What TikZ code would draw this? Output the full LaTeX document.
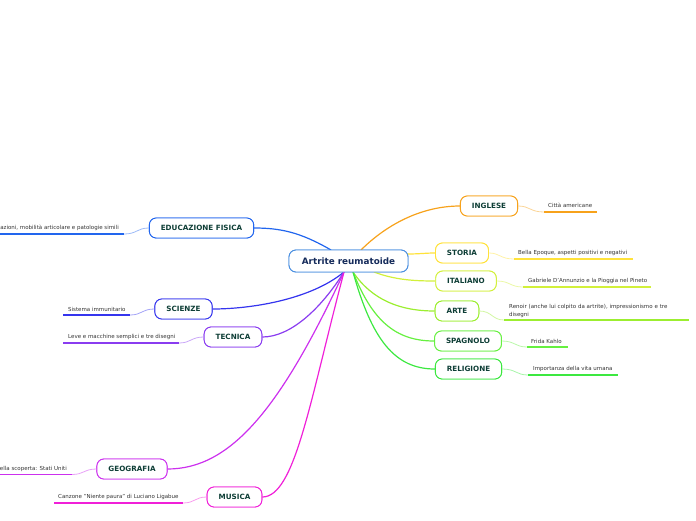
\documentclass[tikz,border=0pt]{standalone}
\usepackage{fontspec}
\setmainfont{DejaVu Sans}
\begin{document}
\begin{tikzpicture}[x=1pt,y=-1pt,
  topic/.style={draw=#1, line width=0.9pt, fill=white, rounded corners=7pt,
    font=\fontsize{7.2}{8}\selectfont\bfseries, text=txt, minimum height=20pt, inner xsep=11.5pt, inner ysep=0pt},
  sub/.style={font=\fontsize{5.5}{7.4}\selectfont, text=subtxt, inner sep=0pt, anchor=west, align=left},
  conn/.style={draw=#1, line width=1.2pt},
  link/.style={draw=#1!45, line width=0.8pt},
  uline/.style={draw=#1, line width=1.4pt}]
\definecolor{txt}{HTML}{0E3E36}
\definecolor{subtxt}{HTML}{333333}
\definecolor{ctxt}{HTML}{142A5A}
\definecolor{cmain}{HTML}{4A8FE0}
\definecolor{cing}{HTML}{F7A21B}
\definecolor{csto}{HTML}{FFE23A}
\definecolor{cita}{HTML}{D2F03A}
\definecolor{cart}{HTML}{9CEE30}
\definecolor{cspa}{HTML}{66F040}
\definecolor{crel}{HTML}{3CE840}
\definecolor{cedu}{HTML}{2266EE}
\definecolor{csci}{HTML}{3535EE}
\definecolor{ctec}{HTML}{8A3CF0}
\definecolor{cgeo}{HTML}{CC30EE}
\definecolor{cmus}{HTML}{F020D8}
\tikzset{mainbox/.style={draw=cmain, line width=0.9pt, fill=white, rounded corners=7pt,
  font=\fontsize{8.8}{10}\selectfont\bfseries, text=ctxt,
  minimum width=119pt, minimum height=22pt, inner sep=0pt}}
\useasboundingbox (0,0) rectangle (696,520);

\coordinate (cT1) at (361,250);
\coordinate (cT2) at (331,250);
\coordinate (cR) at (407,254);
\coordinate (cB1) at (374,272);
\coordinate (cB2) at (353,272);
\coordinate (cB3) at (344,272);

% nodes (placed first to get anchors)
\node[mainbox] (c) at (348.5,261) {\phantom{Artrite reumatoide}};
\node[topic=cing] (ing) at (489,206) {INGLESE};
\node[topic=csto] (sto) at (462,253) {STORIA};
\node[topic=cita] (ita) at (466,281) {ITALIANO};
\node[topic=cart] (art) at (457,311) {ARTE};
\node[topic=cspa] (spa) at (468,341) {SPAGNOLO};
\node[topic=crel] (rel) at (468.5,369) {RELIGIONE};
\node[topic=cedu] (edu) at (201.5,228) {EDUCAZIONE FISICA};
\node[topic=csci] (sci) at (183.5,309) {SCIENZE};
\node[topic=ctec] (tec) at (233,337) {TECNICA};
\node[topic=cgeo] (geo) at (132,469) {GEOGRAFIA};
\node[topic=cmus] (mus) at (234.5,497) {MUSICA};

% main connectors
\draw[conn=cing] (cT1) .. controls (385,226) and (420,206) .. (ing.west);
\draw[conn=csto] (cR) .. controls (420,254) and (425,253) .. (sto.west);
\draw[conn=cita] (cB1) .. controls (395,280) and (415,281) .. (ita.west);
\draw[conn=cart] (cB2) .. controls (372,300) and (400,311) .. (art.west);
\draw[conn=cspa] (cB2) .. controls (372,320) and (395,341) .. (spa.west);
\draw[conn=crel] (cB2) .. controls (372,340) and (395,369) .. (rel.west);
\draw[conn=cedu] (cT2) .. controls (300,232) and (280,228) .. (edu.east);
\draw[conn=csci] (cB3) .. controls (310,300) and (250,309) .. (sci.east);
\draw[conn=ctec] (cB3) .. controls (320,310) and (290,337) .. (tec.east);
\draw[conn=cgeo] (cB3) .. controls (280,410) and (230,469) .. (geo.east);
\draw[conn=cmus] (cB3) .. controls (310,400) and (295,497) .. (mus.east);

% redraw nodes over connectors
\node[mainbox] at (348.5,261) {Artrite reumatoide};
\node[topic=cing] at (489,206) {INGLESE};
\node[topic=csto] at (462,253) {STORIA};
\node[topic=cita] at (466,281) {ITALIANO};
\node[topic=cart] at (457,311) {ARTE};
\node[topic=cspa] at (468,341) {SPAGNOLO};
\node[topic=crel] at (468.5,369) {RELIGIONE};
\node[topic=cedu] at (201.5,228) {EDUCAZIONE FISICA};
\node[topic=csci] at (183.5,309) {SCIENZE};
\node[topic=ctec] at (233,337) {TECNICA};
\node[topic=cgeo] at (132,469) {GEOGRAFIA};
\node[topic=cmus] at (234.5,497) {MUSICA};

% subtopics right
\coordinate (u1a) at (544,212); \coordinate (u1b) at (597,212);
\node[sub] (s1) at (548,205.5) {Città americane};
\draw[link=cing] (ing.east) .. controls (530,206) and (530,212) .. (u1a);
\draw[uline=cing] (u1a) -- (u1b);

\coordinate (u2a) at (514,259); \coordinate (u2b) at (633,259);
\node[sub] (s2) at (518,253) {Bella Epoque, aspetti positivi e negativi};
\draw[link=csto] (sto.east) .. controls (500,253) and (500,259) .. (u2a);
\draw[uline=csto] (u2a) -- (u2b);

\coordinate (u3a) at (523,287); \coordinate (u3b) at (651,287);
\node[sub] (s3) at (528,281) {Gabriele D'Annunzio e la Pioggia nel Pineto};
\draw[link=cita] (ita.east) .. controls (510,281) and (510,287) .. (u3a);
\draw[uline=cita] (u3a) -- (u3b);

\coordinate (u4a) at (504,320); \coordinate (u4b) at (689,320);
\node[sub, text width=185pt] (s4) at (509,311) {Renoir (anche lui colpito da artrite), impressionismo e tre\\disegni};
\draw[link=cart] (art.east) .. controls (492,311) and (492,320) .. (u4a);
\draw[uline=cart] (u4a) -- (u4b);

\coordinate (u5a) at (527,347); \coordinate (u5b) at (568,347);
\node[sub] (s5) at (531,341) {Frida Kahlo};
\draw[link=cspa] (spa.east) .. controls (515,341) and (515,347) .. (u5a);
\draw[uline=cspa] (u5a) -- (u5b);

\coordinate (u6a) at (528,375); \coordinate (u6b) at (618,375);
\node[sub] (s6) at (533,369) {Importanza della vita umana};
\draw[link=crel] (rel.east) .. controls (516,369) and (516,375) .. (u6a);
\draw[uline=crel] (u6a) -- (u6b);

% subtopics left
\coordinate (u7a) at (124,234); \coordinate (u7b) at (0,234);
\node[sub, anchor=east] (s7) at (119,228) {lazioni, mobilità articolare e patologie simili};
\draw[link=cedu] (edu.west) .. controls (137,228) and (137,234) .. (u7a);
\draw[uline=cedu] (u7a) -- (u7b);

\coordinate (u8a) at (130,315); \coordinate (u8b) at (63,315);
\node[sub] (s8) at (68,309) {Sistema immunitario};
\draw[link=csci] (sci.west) .. controls (142,309) and (142,315) .. (u8a);
\draw[uline=csci] (u8a) -- (u8b);

\coordinate (u9a) at (179,343); \coordinate (u9b) at (63,343);
\node[sub] (s9) at (68,337) {Leve e macchine semplici e tre disegni};
\draw[link=ctec] (tec.west) .. controls (191,337) and (191,343) .. (u9a);
\draw[uline=ctec] (u9a) -- (u9b);

\coordinate (u10a) at (72,474.5); \coordinate (u10b) at (0,474.5);
\node[sub, anchor=east] (s10) at (67,468.5) {ella scoperta: Stati Uniti};
\draw[link=cgeo] (geo.west) .. controls (84,469) and (84,474.5) .. (u10a);
\draw[uline=cgeo] (u10a) -- (u10b);

\coordinate (u11a) at (183,503); \coordinate (u11b) at (54,503);
\node[sub] (s11) at (58,497) {Canzone "Niente paura" di Luciano Ligabue};
\draw[link=cmus] (mus.west) .. controls (195,497) and (195,503) .. (u11a);
\draw[uline=cmus] (u11a) -- (u11b);
\end{tikzpicture}
\end{document}
